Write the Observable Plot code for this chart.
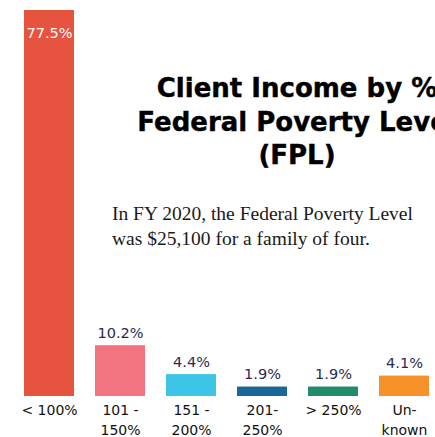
<!DOCTYPE html>
<html>
<head>
<meta charset="utf-8">
<script src="https://cdn.jsdelivr.net/npm/d3@7"></script>
<script src="https://cdn.jsdelivr.net/npm/@observablehq/plot@0.6"></script>
<style>
  html, body { margin: 0; padding: 0; background: #fff; overflow: hidden; }
  #wrap { position: relative; width: 435px; height: 437px; overflow: hidden; }
  #title { position: absolute; left: 97px; width: 400px; top: 72px; text-align: center;
    font-family: "DejaVu Sans", sans-serif; font-weight: bold; font-size: 26px; line-height: 33.5px; color: #000;
    -webkit-text-stroke: 0.4px #000; }
  #sub { position: absolute; left: 112px; top: 201px; width: 330px;
    font-family: "Liberation Serif", serif; font-size: 19.5px; line-height: 25px; color: #1a1a1a; white-space: nowrap; }
</style>
</head>
<body>
<div id="wrap">
  <div id="chart"></div>
  <div id="title">Client Income by % <br>Federal Poverty Level<br>(FPL)</div>
  <div id="sub">In FY 2020, the Federal Poverty Level<br>was $25,100 for a family of four.</div>
</div>
<script>
const categories = ["< 100%", "101 -\n150%", "151 -\n200%", "201-\n250%", "> 250%", "Un-\nknown"];
const values = [77.5, 10.2, 4.4, 1.9, 1.9, 4.1];
const colors = ["#E6533F", "#F27480", "#3CC5E6", "#1B679A", "#218B6C", "#F7922A"];
const valueLabels = ["77.5%", "10.2%", "4.4%", "1.9%", "1.9%", "4.1%"];

const data = categories.map((c, i) => ({cat: c, value: values[i], color: colors[i], label: valueLabels[i], first: i === 0}));

const chart = Plot.plot({
  width: 435,
  height: 437,
  marginTop: 10,
  marginBottom: 41,
  marginLeft: 21,
  marginRight: 3,
  style: {fontFamily: "DejaVu Sans, sans-serif", background: "transparent"},
  x: {domain: categories, paddingInner: 0.29, paddingOuter: 0, axis: null},
  y: {domain: [0, 77.5], axis: null},
  marks: [
    Plot.barY(data, {x: "cat", y: "value", fill: "color"}),
    Plot.text(data.filter(d => !d.first), {x: "cat", y: "value", text: "label", lineAnchor: "bottom", dy: -8, fill: "#2A2B4E", fontSize: 14.5}),
    Plot.text(data.filter(d => d.first), {x: "cat", y: "value", text: "label", lineAnchor: "top", dy: 17, fill: "#ffffff", fontSize: 14.5}),
    Plot.axisX({domain: categories, tickSize: 0, tickPadding: 0, label: null, fontSize: 14, lineHeight: 1.38, dy: 5, color: "#111", textAnchor: "middle"})
  ]
});
document.getElementById("chart").appendChild(chart);
</script>
</body>
</html>
